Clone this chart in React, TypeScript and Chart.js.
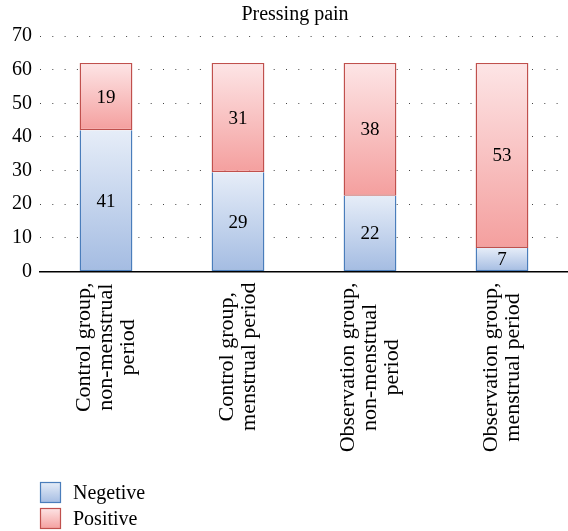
import React, { useEffect, useRef } from "react";
import { Chart, registerables } from "chart.js";

Chart.register(...registerables);

const TITLE = "Pressing pain";
const CATEGORIES: string[][] = [
  ["Control group,", "non-menstrual", "period"],
  ["Control group,", "menstrual period"],
  ["Observation group,", "non-menstrual", "period"],
  ["Observation group,", "menstrual period"],
];
const SERIES_NAMES = ["Negetive", "Positive"];
// bar heights as drawn in the picture
const NEGATIVE_HEIGHT = [42, 29.5, 22.5, 7];
const POSITIVE_HEIGHT = [20, 32.5, 39.5, 55];
// numbers printed on the bars
const NEGATIVE_LABELS = [41, 29, 22, 7];
const POSITIVE_LABELS = [19, 31, 38, 53];
const Y_MIN = 0;
const Y_MAX = 70;
const Y_STEP = 10;

const FONT = '"Liberation Serif", "Times New Roman", serif';
const NEG_TOP = "#e6edf8";
const NEG_BOTTOM = "#a4bce2";
const NEG_BORDER = "#4a7dbb";
const POS_TOP = "#fde5e6";
const POS_BOTTOM = "#f49f9e";
const POS_BORDER = "#c0504d";

function gradientFor(chart: any, start: number, end: number, c1: string, c2: string) {
  const y = chart.scales?.y;
  if (!y) return c2;
  const top = y.getPixelForValue(end);
  const bottom = y.getPixelForValue(start);
  if (!isFinite(top) || !isFinite(bottom) || top === bottom) return c2;
  const g = chart.ctx.createLinearGradient(0, top, 0, bottom);
  g.addColorStop(0, c1);
  g.addColorStop(1, c2);
  return g;
}

const customDraw = {
  id: "customDraw",
  afterDraw(chart: any) {
    const ctx = chart.ctx;
    const xs = chart.scales.x;
    ctx.save();
    // title
    ctx.fillStyle = "#000";
    ctx.font = `20px ${FONT}`;
    ctx.textAlign = "center";
    ctx.textBaseline = "middle";
    ctx.fillText(TITLE, 295, 15);

    // data labels
    ctx.font = `19px ${FONT}`;
    const labelSets = [NEGATIVE_LABELS, POSITIVE_LABELS];
    [0, 1].forEach((di) => {
      const meta = chart.getDatasetMeta(di);
      meta.data.forEach((el: any, i: number) => {
        const cy = (el.y + el.base) / 2;
        ctx.fillText(String(labelSets[di][i]), el.x, cy + 1);
      });
    });

    // x category labels (rotated, lines centred)
    ctx.font = `22px ${FONT}`;
    CATEGORIES.forEach((lines, i) => {
      const cx = xs.getPixelForTick(i);
      const maxW = Math.max(...lines.map((l) => ctx.measureText(l).width));
      const midY = xs.top + 11 + maxW / 2;
      const n = lines.length;
      lines.forEach((line, j) => {
        const off = (j - (n - 1) / 2) * 22;
        ctx.save();
        ctx.translate(cx + off, midY);
        ctx.rotate(-Math.PI / 2);
        ctx.textAlign = "center";
        ctx.textBaseline = "middle";
        ctx.fillText(line, 0, 0);
        ctx.restore();
      });
    });

    // legend
    const items = [
      { name: SERIES_NAMES[0], c1: NEG_TOP, c2: NEG_BOTTOM, b: NEG_BORDER, y: 482 },
      { name: SERIES_NAMES[1], c1: POS_TOP, c2: POS_BOTTOM, b: POS_BORDER, y: 508 },
    ];
    items.forEach((it) => {
      const g = ctx.createLinearGradient(0, it.y, 0, it.y + 21);
      g.addColorStop(0, it.c1);
      g.addColorStop(1, it.c2);
      ctx.fillStyle = g;
      ctx.fillRect(40.5, it.y + 0.5, 20, 20);
      ctx.strokeStyle = it.b;
      ctx.lineWidth = 1.2;
      ctx.strokeRect(40.5, it.y + 0.5, 20, 20);
      ctx.fillStyle = "#000";
      ctx.font = `20px ${FONT}`;
      ctx.textAlign = "left";
      ctx.textBaseline = "middle";
      ctx.fillText(it.name, 73, it.y + 12);
    });
    ctx.restore();
  },
};

export default function App() {
  const ref = useRef<HTMLCanvasElement | null>(null);
  useEffect(() => {
    if (!ref.current) return;
    const chart = new Chart(ref.current, {
      type: "bar",
      data: {
        labels: CATEGORIES.map((c) => c.join(" ")),
        datasets: [
          {
            label: SERIES_NAMES[0],
            data: NEGATIVE_HEIGHT,
            backgroundColor: (c: any) =>
              gradientFor(c.chart, 0, NEGATIVE_HEIGHT[c.dataIndex] ?? 0, NEG_TOP, NEG_BOTTOM),
            borderColor: NEG_BORDER,
            borderWidth: 1.4,
            borderSkipped: "end",
            barPercentage: 0.4,
            categoryPercentage: 1,
          },
          {
            label: SERIES_NAMES[1],
            data: POSITIVE_HEIGHT,
            backgroundColor: (c: any) => {
              const s = NEGATIVE_HEIGHT[c.dataIndex] ?? 0;
              return gradientFor(c.chart, s, s + (POSITIVE_HEIGHT[c.dataIndex] ?? 0), POS_TOP, POS_BOTTOM);
            },
            borderColor: POS_BORDER,
            borderWidth: 1.4,
            borderSkipped: false,
            barPercentage: 0.4,
            categoryPercentage: 1,
          },
        ],
      },
      options: {
        responsive: false,
        animation: false,
        layout: { padding: { top: 36, left: 0, right: 0, bottom: 0 } },
        plugins: {
          legend: { display: false },
          title: { display: false },
          tooltip: { enabled: false },
        },
        scales: {
          x: {
            stacked: true,
            grid: { display: false },
            border: { display: true, color: "#000", width: 1.5 },
            ticks: { display: false },
            afterFit: (scale: any) => {
              scale.height = 531 - 271.5;
            },
          },
          y: {
            stacked: true,
            min: Y_MIN,
            max: Y_MAX,
            ticks: {
              stepSize: Y_STEP,
              color: "#000",
              font: { family: FONT, size: 20 },
              padding: 8,
            },
            grid: { color: "#444", lineWidth: 1, drawTicks: false },
            border: { display: false, dash: [1, 11.3] },
            afterFit: (scale: any) => {
              scale.width = 40;
            },
          },
        },
      },
      plugins: [customDraw],
    } as any);
    return () => chart.destroy();
  }, []);
  return (
    <div style={{ position: "absolute", left: 0, top: 0, width: 568, height: 531, background: "#fff" }}>
      <canvas ref={ref} width={568} height={531} style={{ display: "block" }} />
    </div>
  );
}
